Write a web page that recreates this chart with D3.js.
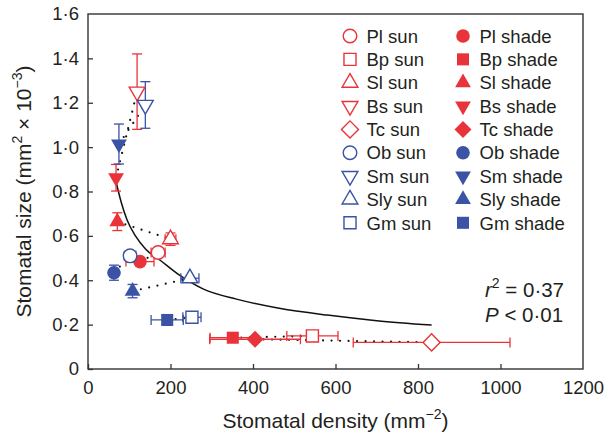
<!DOCTYPE html>
<html>
<head>
<meta charset="utf-8">
<script src="https://cdn.jsdelivr.net/npm/d3@7"></script>
<style>
    body { margin: 0; background: #fff; }
    svg text { font-family: "Liberation Sans", Arial, Helvetica, sans-serif; fill: #231f20; }
</style>
</head>
<body>
<div id="chart"></div>
<script>
// species, sun then shade values (density mm^-2, size mm^2 x 10^-3)
var species = ["Pl", "Bp", "Sl", "Bs", "Tc", "Ob", "Sm", "Sly", "Gm"];

var sunDensity = [170, 544, 200, 119, 833, 102, 139, 247, 252];
var sunDensityErr = [17, 62, 13, 0, 190, 14, 0, 22, 22];
var sunSize = [0.525, 0.149, 0.585, 1.25, 0.12, 0.51, 1.19, 0.409, 0.233];
var sunSizeErr = [0, 0, 0.028, 0.17, 0, 0, 0.105, 0, 0];

var shadeDensity = [126, 351, 71, 68, 405, 63, 75, 108, 192];
var shadeDensityErr = [34, 55, 0, 0, 110, 0, 0, 0, 39];
var shadeSize = [0.484, 0.141, 0.664, 0.862, 0.134, 0.434, 1.014, 0.351, 0.221];
var shadeSizeErr = [0, 0, 0.04, 0.06, 0, 0.034, 0.09, 0.03, 0];

// fitted curve
var fitDensity = [68, 80, 95, 115, 140, 175, 220, 280, 360, 460, 580, 700, 833];
var fitSize = [0.844, 0.755, 0.67, 0.60, 0.54, 0.49, 0.425, 0.36, 0.315, 0.275, 0.243, 0.218, 0.198];

var xTicks = [0, 200, 400, 600, 800, 1000, 1200];
var yTicks = [0, 0.2, 0.4, 0.6, 0.8, 1.0, 1.2, 1.4, 1.6];

var red = "#e8333a";
var blue = "#3a53a4";
var speciesColor = [red, red, red, red, red, blue, blue, blue, blue];
var speciesShape = ["circle", "square", "up", "down", "diamond", "circle", "down", "up", "square"];

var W = 607, H = 439;
var margin = { top: 14, right: 24, bottom: 70, left: 88 };
var width = W - margin.left - margin.right;
var height = H - margin.top - margin.bottom;

var svg = d3.select("#chart").append("svg")
    .attr("width", W)
    .attr("height", H);

var g = svg.append("g")
    .attr("transform", "translate(" + margin.left + "," + margin.top + ")");

var x = d3.scaleLinear().domain([0, 1200]).range([0, width]);
var y = d3.scaleLinear().domain([0, 1.6]).range([height, 0]);

function fmt(v) {
    return v === 0 ? "0" : d3.format(".1f")(v).replace(".", "\u00b7");
}

var xAxis = g.append("g")
    .attr("transform", "translate(0," + height + ")")
    .call(d3.axisBottom(x).tickValues(xTicks).tickFormat(d3.format("d"))
        .tickSizeInner(-5).tickSizeOuter(0).tickPadding(12));
var yAxis = g.append("g")
    .call(d3.axisLeft(y).tickValues(yTicks).tickFormat(fmt)
        .tickSizeInner(-5).tickSizeOuter(0).tickPadding(9));

[xAxis, yAxis].forEach(function (a) {
    a.select(".domain").remove();
    a.selectAll("line").attr("stroke", "#333").attr("stroke-width", 1.3);
    a.selectAll("text").attr("font-size", "18.5px").attr("fill", "#231f20");
});
xAxis.selectAll(".tick").filter(function (d) { return d === 1200; }).select("line").remove();
yAxis.selectAll(".tick").filter(function (d) { return d === 1.6; }).select("line").remove();

g.append("rect")
    .attr("width", width).attr("height", height)
    .attr("fill", "none").attr("stroke", "#333").attr("stroke-width", 1.4);

// axis titles
svg.append("text")
    .attr("x", margin.left + width / 2).attr("y", 428)
    .attr("text-anchor", "middle").attr("font-size", "21px")
    .call(function (t) {
        t.append("tspan").text("Stomatal density (mm");
        t.append("tspan").attr("font-size", "14px").attr("dy", "-9").text("\u22122");
        t.append("tspan").attr("dy", "9").text(")");
    });

svg.append("text")
    .attr("transform", "translate(31," + (margin.top + height / 2) + ") rotate(-90)")
    .attr("text-anchor", "middle").attr("font-size", "21px")
    .call(function (t) {
        t.append("tspan").text("Stomatal size (mm");
        t.append("tspan").attr("font-size", "14px").attr("dy", "-9").text("2");
        t.append("tspan").attr("dy", "9").text(" \u00d7 10");
        t.append("tspan").attr("font-size", "14px").attr("dy", "-9").text("\u22123");
        t.append("tspan").attr("dy", "9").text(")");
    });

// fitted curve
var fitData = fitDensity.map(function (d, i) { return [d, fitSize[i]]; });
g.append("path")
    .datum(fitData)
    .attr("fill", "none").attr("stroke", "#111").attr("stroke-width", 1.5)
    .attr("d", d3.line()
        .x(function (d) { return x(d[0]); })
        .y(function (d) { return y(d[1]); })
        .curve(d3.curveMonotoneX));

// dotted lines joining sun and shade of the same species
g.selectAll(".pair").data(species).enter().append("line")
    .attr("class", "pair")
    .attr("x1", function (d, i) { return x(shadeDensity[i]); })
    .attr("y1", function (d, i) { return y(shadeSize[i]); })
    .attr("x2", function (d, i) { return x(sunDensity[i]); })
    .attr("y2", function (d, i) { return y(sunSize[i]); })
    .attr("stroke", "#111").attr("stroke-width", 2.2)
    .attr("stroke-linecap", "round").attr("stroke-dasharray", "0 8.5");

var points = [];
species.forEach(function (s, i) {
    points.push({ name: s, light: "sun", dx: sunDensity[i], ex: sunDensityErr[i], dy: sunSize[i], ey: sunSizeErr[i], i: i });
    points.push({ name: s, light: "shade", dx: shadeDensity[i], ex: shadeDensityErr[i], dy: shadeSize[i], ey: shadeSizeErr[i], i: i });
});

// error bars
var cap = 5;
points.forEach(function (p) {
    var col = speciesColor[p.i];
    var px = x(p.dx), py = y(p.dy);
    var eb = g.append("g").attr("stroke", col).attr("stroke-width", 1.3).attr("fill", "none");
    if (p.ex > 0) {
        var x0 = x(p.dx - p.ex), x1 = x(p.dx + p.ex);
        eb.append("line").attr("x1", x0).attr("x2", x1).attr("y1", py).attr("y2", py);
        eb.append("line").attr("x1", x0).attr("x2", x0).attr("y1", py - cap).attr("y2", py + cap);
        eb.append("line").attr("x1", x1).attr("x2", x1).attr("y1", py - cap).attr("y2", py + cap);
    }
    if (p.ey > 0) {
        var y0 = y(p.dy - p.ey), y1 = y(p.dy + p.ey);
        eb.append("line").attr("x1", px).attr("x2", px).attr("y1", y0).attr("y2", y1);
        eb.append("line").attr("y1", y0).attr("y2", y0).attr("x1", px - cap).attr("x2", px + cap);
        eb.append("line").attr("y1", y1).attr("y2", y1).attr("x1", px - cap).attr("x2", px + cap);
    }
});

function symbolPath(shape) {
    if (shape === "circle") return d3.symbol(d3.symbolCircle, 145)();
    if (shape === "square") return d3.symbol(d3.symbolSquare, 145)();
    if (shape === "diamond") return d3.symbol(d3.symbolSquare, 145)();
    return d3.symbol(d3.symbolTriangle, 108)();
}
function symbolRotate(shape) {
    if (shape === "down") return " rotate(180)";
    if (shape === "diamond") return " rotate(45)";
    return "";
}
function drawMarker(sel, shape, col, filled) {
    sel.append("path")
        .attr("d", symbolPath(shape))
        .attr("transform", function () { return sel.attr("data-t") + symbolRotate(shape); })
        .attr("fill", filled ? col : "#fff")
        .attr("stroke", col).attr("stroke-width", filled ? 0 : 1.4);
}

points.forEach(function (p) {
    var mg = g.append("g").attr("data-t", "translate(" + x(p.dx) + "," + y(p.dy) + ")");
    drawMarker(mg, speciesShape[p.i], speciesColor[p.i], p.light === "shade");
});

// legend
var legend = svg.append("g");
species.forEach(function (s, i) {
    var ly = 36 + i * 23.35;
    [["sun", 350, false], ["shade", 463, true]].forEach(function (c) {
        var mg = legend.append("g").attr("data-t", "translate(" + c[1] + "," + ly + ")");
        drawMarker(mg, speciesShape[i], speciesColor[i], c[2]);
        legend.append("text")
            .attr("x", c[1] + 16.5).attr("y", ly + 6.7)
            .attr("font-size", "18.5px")
            .text(s + " " + c[0]);
    });
});

// statistics
var stats = svg.append("g").attr("font-size", "20.5px");
stats.append("text").attr("x", 485).attr("y", 297)
    .call(function (t) {
        t.append("tspan").attr("font-style", "italic").text("r");
        t.append("tspan").attr("font-size", "14px").attr("dy", "-9").text("2");
        t.append("tspan").attr("dy", "9").text(" = 0\u00b737");
    });
stats.append("text").attr("x", 485).attr("y", 322)
    .call(function (t) {
        t.append("tspan").attr("font-style", "italic").text("P");
        t.append("tspan").text(" < 0\u00b701");
    });
</script>
</body>
</html>
